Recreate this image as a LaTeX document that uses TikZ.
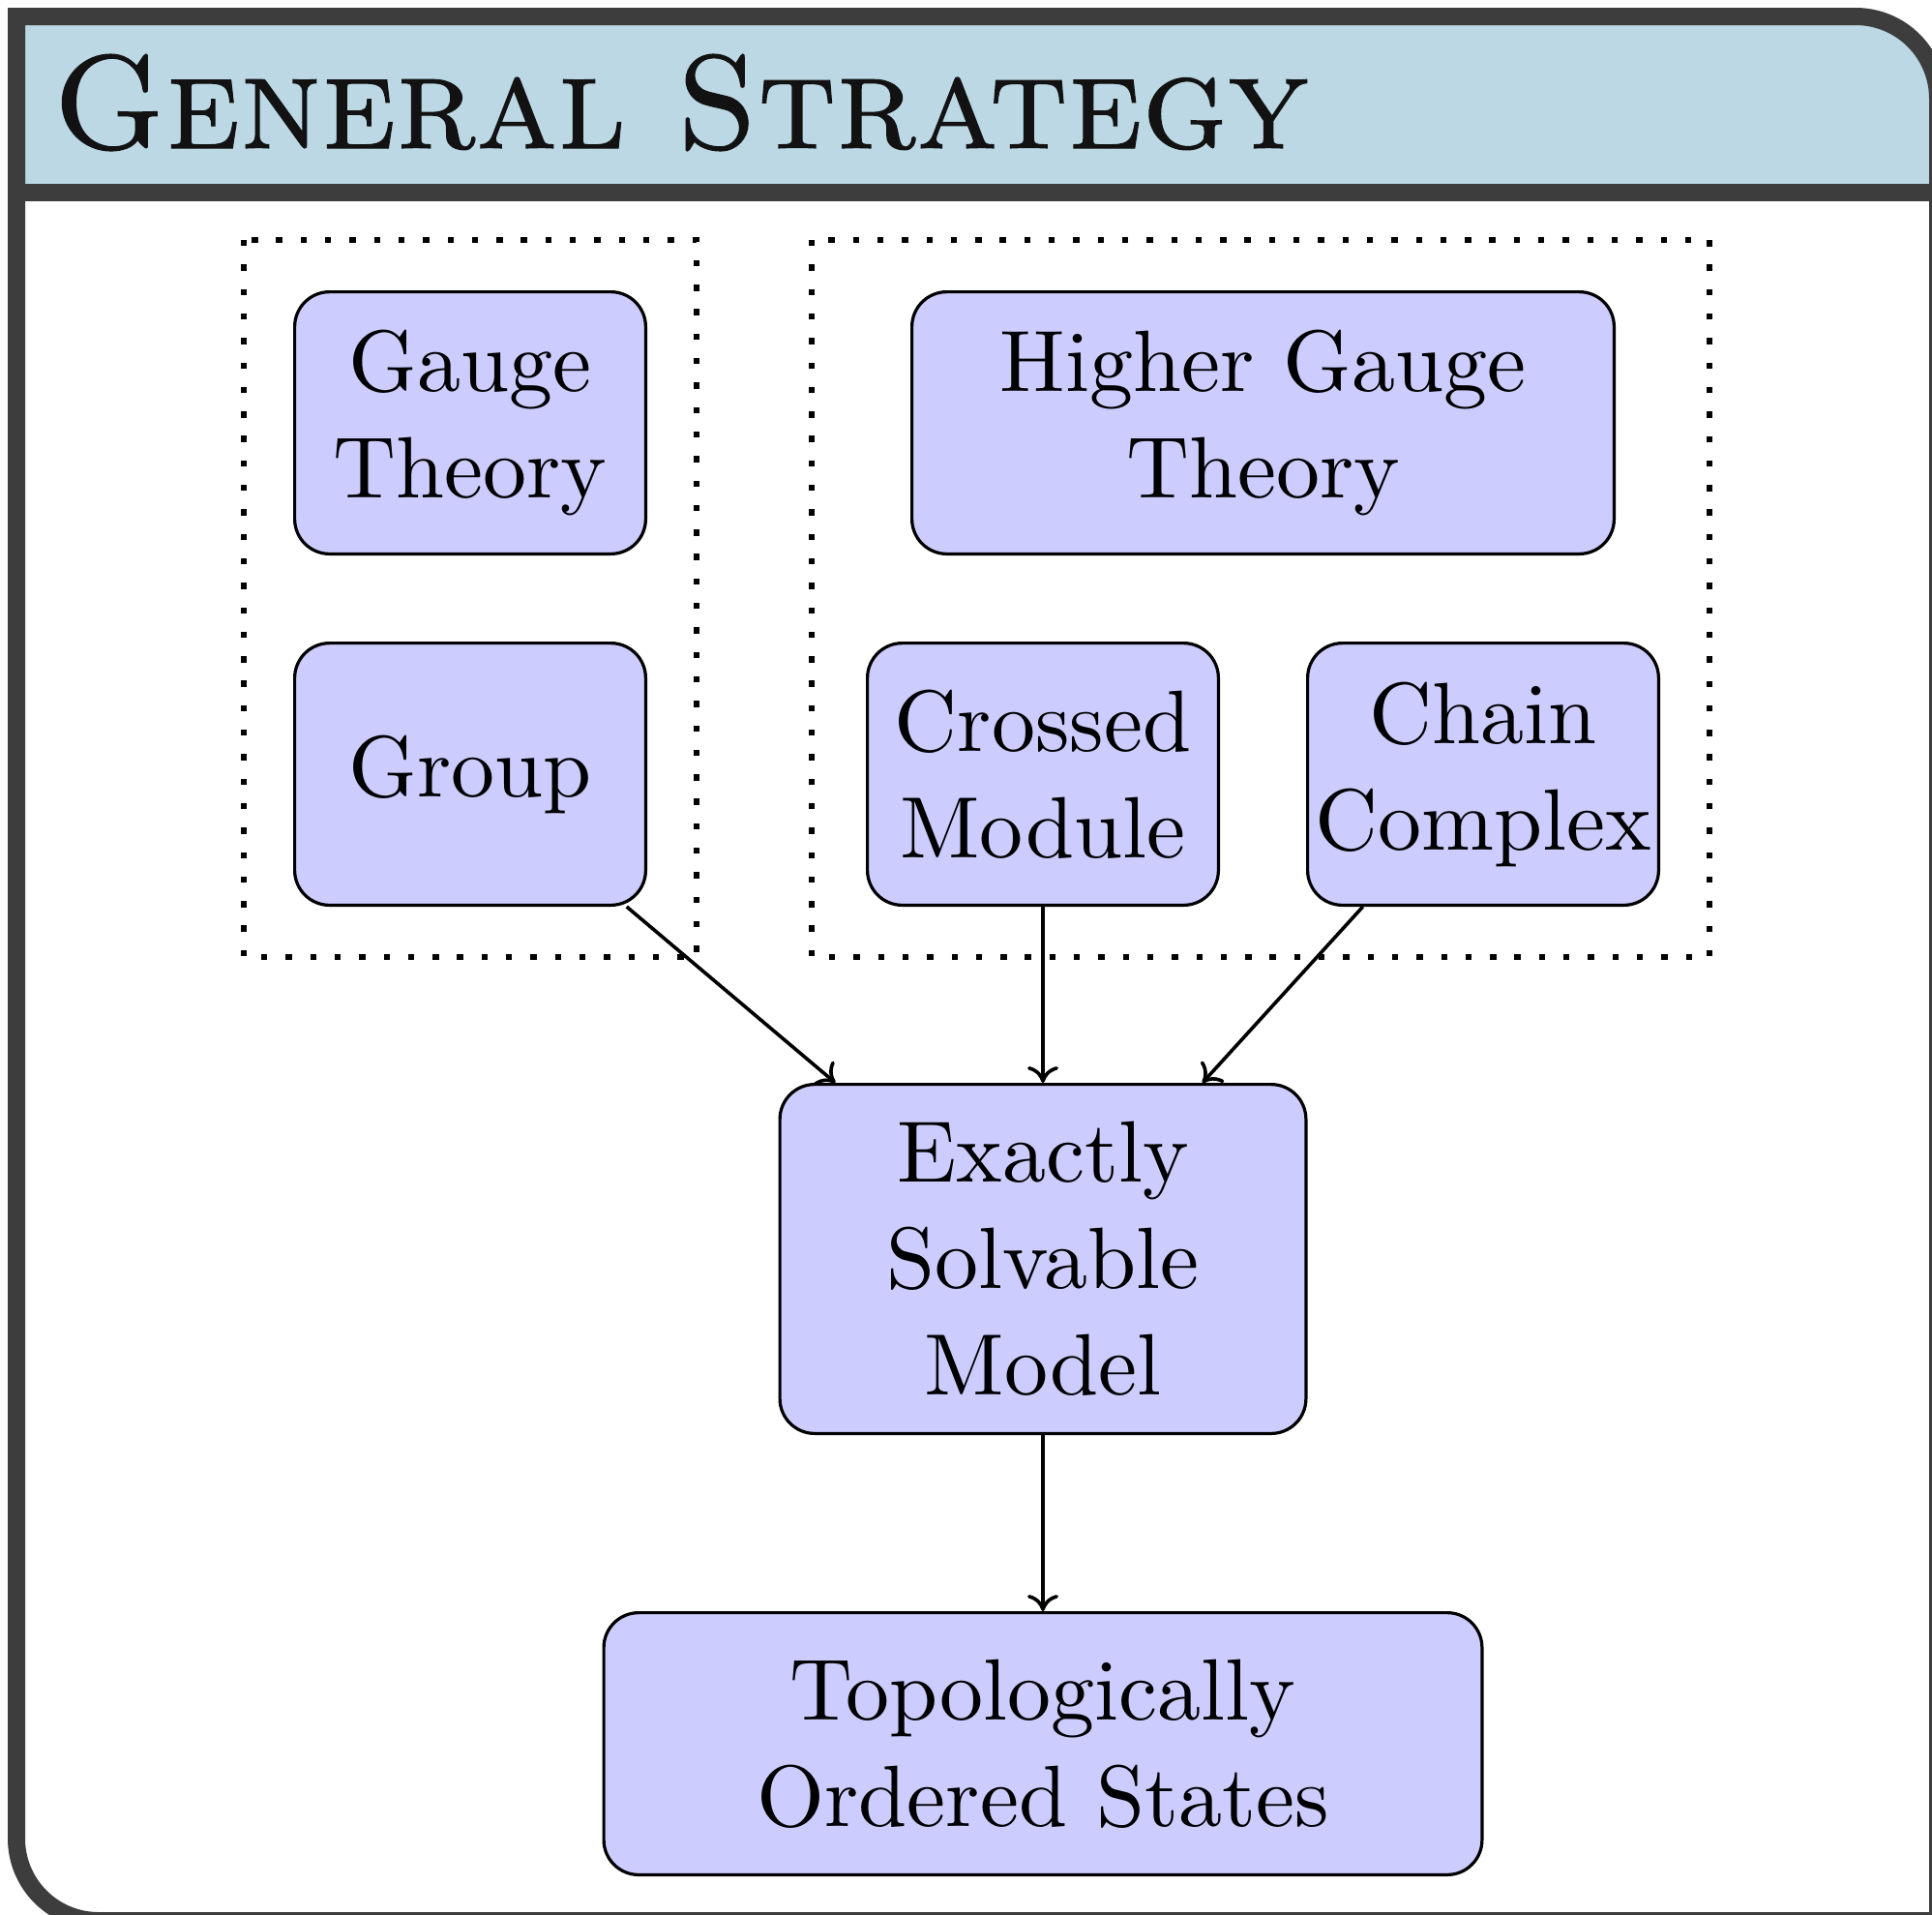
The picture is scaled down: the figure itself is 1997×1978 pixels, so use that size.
\documentclass[tikz,border=0pt]{standalone}
\usepackage{fontspec}
\usetikzlibrary{arrows.meta}
\newfontfamily\tenrm{lmroman10-regular}[Extension=.otf]
\newfontfamily\tencaps{lmromancaps10-regular}[Extension=.otf, FakeBold=0.8]
\definecolor{framecol}{RGB}{61,61,61}
\definecolor{headcol}{RGB}{187,216,228}
\definecolor{boxcol}{RGB}{204,204,255}
\begin{document}
\begin{tikzpicture}[x=0.5pt,y=-0.5pt,
  box/.style={draw=black, line width=1.6pt, fill=boxcol, rounded corners=18pt,
    align=center, inner sep=1pt, font=\tenrm\fontsize{45}{55}\selectfont},
  smallbox/.style={box, minimum width=181.4pt, minimum height=135.4pt},
  widebox/.style={box, minimum width=362.9pt, minimum height=135.4pt},
  midbox/.style={box, minimum width=271.9pt, minimum height=180.4pt},
  longbox/.style={box, minimum width=453.9pt, minimum height=135.4pt},
  arr/.style={line width=1.8pt, -{Computer Modern Rightarrow[length=8.5pt,width=16pt]}},
  dotbox/.style={line width=3.2pt, dash pattern=on 3.2pt off 9.45pt},
  framestroke/.style={draw=framecol, line width=9pt}]
\useasboundingbox (0,0) rectangle (1997,1978);
\clip (0,0) rectangle (1997,1978);
% header
\fill[headcol] (17,199) -- (17,17) -- (1918,17) arc[start angle=90,end angle=0,radius=42.5pt] -- (2003,199) -- cycle;
\draw[framestroke] (17,17) -- (1918,17) arc[start angle=90,end angle=0,radius=42.5pt]
  -- (2003,1985) -- (102,1985) arc[start angle=270,end angle=180,radius=42.5pt] -- cycle;
\draw[framestroke] (17,199) -- (2003,199);
\node[anchor=base west, inner sep=0pt, text=black!93,
  font=\tencaps\fontsize{68.8}{72}\selectfont] (title) at (54,153) {General Strategy};
% dotted groups
\draw[dotbox] (252,248) rectangle (720,989);
\draw[dotbox] (839,248) rectangle (1767,989);
% nodes
\node[smallbox] (gauge) at (486,437) {Gauge\\Theory};
\node[smallbox] (group) at (486,800) {Group};
\node[widebox] (higher) at (1305.5,437) {Higher Gauge\\Theory};
\node[smallbox] (crossed) at (1078,800) {Crossed\\Module};
\node[smallbox] (chain) at (1533,800) {Chain\\Complex};
\node[midbox] (exact) at (1078,1301) {Exactly\\Solvable\\Model};
\node[longbox] (topo) at (1078,1802) {Topologically\\Ordered States};
% arrows
\draw[arr] (group) -- (exact);
\draw[arr] (crossed) -- (exact);
\draw[arr] (chain) -- (exact);
\draw[arr] (exact) -- (topo);
\end{tikzpicture}
\end{document}
